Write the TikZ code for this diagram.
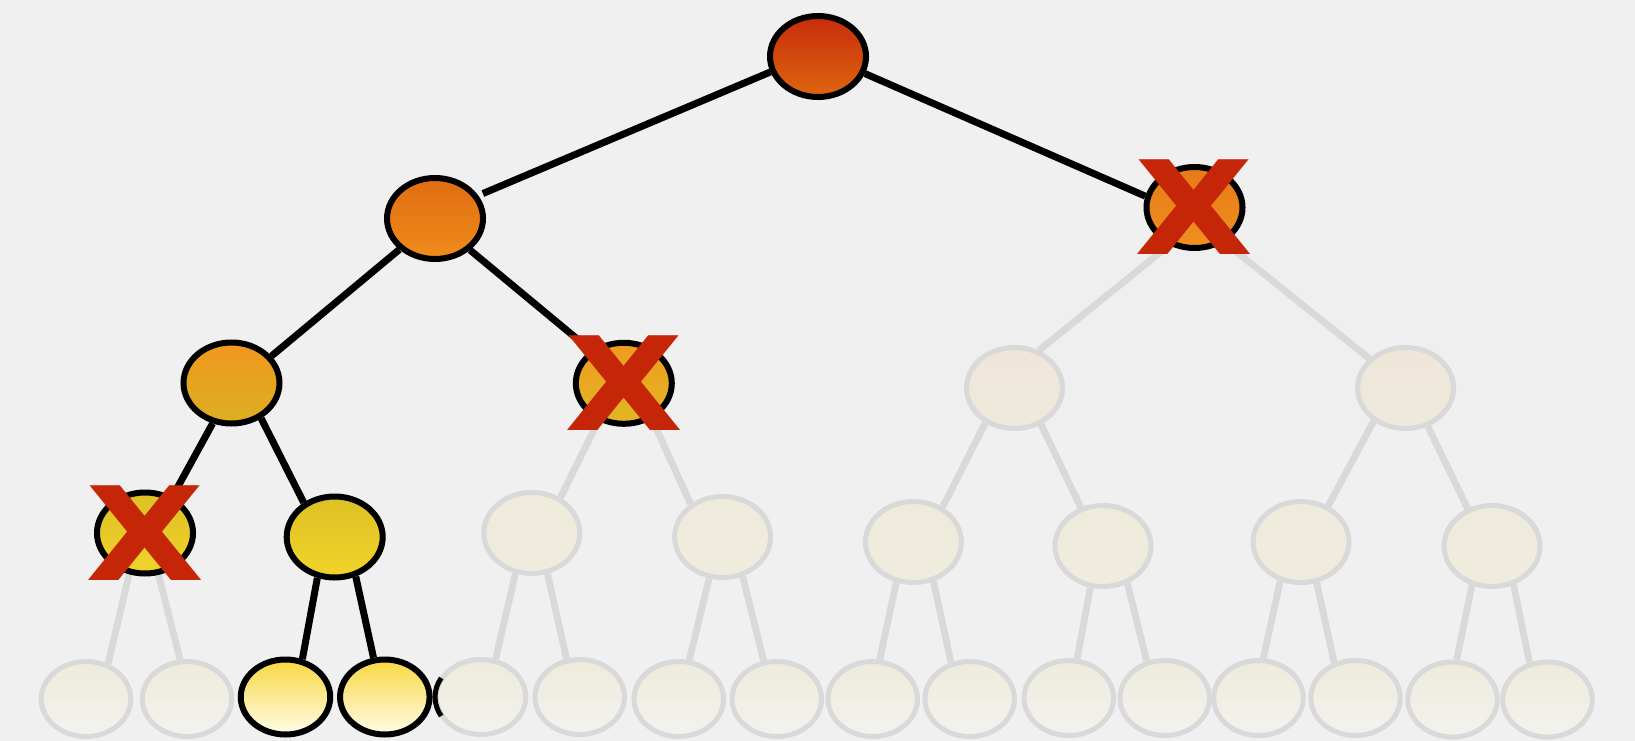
\documentclass[tikz,border=0pt]{standalone}
\usepackage{fontspec}
\newfontfamily\crossfont{DejaVu Sans}
\usetikzlibrary{shapes.geometric}

% palette
\definecolor{bg}{HTML}{F0F0F0}
\definecolor{panel}{HTML}{EFEFEF}
\definecolor{dimline}{HTML}{D9D9D9}
\definecolor{xred}{RGB}{198,38,8}
\definecolor{rootT}{HTML}{C82C0A}
\definecolor{rootB}{HTML}{DD6610}
\definecolor{oneLT}{HTML}{E06C12}
\definecolor{oneLB}{HTML}{EF8C1A}
\definecolor{oneRT}{HTML}{E57A18}
\definecolor{oneRB}{HTML}{F09020}
\definecolor{twoT}{HTML}{F0961E}
\definecolor{twoB}{HTML}{DCB022}
\definecolor{twoXT}{HTML}{F09A20}
\definecolor{twoXB}{HTML}{E0B822}
\definecolor{thrT}{HTML}{DDC024}
\definecolor{thrB}{HTML}{F1D42A}
\definecolor{leafT}{HTML}{F8D840}
\definecolor{leafB}{HTML}{FFFCEA}
\definecolor{fadeTwoT}{HTML}{EFE6D8}
\definecolor{fadeTwoB}{HTML}{EEE9DC}
\definecolor{fadeThrT}{HTML}{EEEBDB}
\definecolor{fadeThrB}{HTML}{EFECDF}
\definecolor{fadeLeafT}{HTML}{EEEBDB}
\definecolor{fadeLeafB}{HTML}{F3F2EE}

\pgfdeclarelayer{canvas}
\pgfdeclarelayer{links}
\pgfsetlayers{canvas,links,main}

\tikzset{
  tnode/.style={ellipse, draw=black, line width=6pt, inner sep=0pt,
                minimum width=96pt, minimum height=81pt},
  leafnode/.style={tnode, line width=6pt, minimum width=89.5pt, minimum height=75pt},
  faded/.style={draw=dimline, line width=5pt},
  liveedge/.style={line width=7pt, black},
  dimedge/.style={line width=6.8pt, dimline},
  cross/.style={text=xred, inner sep=0pt,
                font=\crossfont\fontsize{130}{130}\selectfont\bfseries},
}

\newcommand{\wideX}{\scalebox{1.19}[1]{X}}

\begin{document}
\begin{tikzpicture}[x=1pt,y=-1pt]
  \useasboundingbox (0,0) rectangle (1635,741);
  \begin{pgfonlayer}{canvas}
    \fill[bg] (0,0) rectangle (1635,741);
    \fill[panel] (826,250) rectangle (1625,428);
  \end{pgfonlayer}

  % internal nodes
  \node[tnode, top color=rootT, bottom color=rootB] (r) at (818,56.5) {};
  \node[tnode, top color=oneLT, bottom color=oneLB] (a) at (435,218.5) {};
  \node[tnode, top color=oneRT, bottom color=oneRB] (b) at (1194.5,207.5) {};
  \node[tnode, top color=twoT, bottom color=twoB] (aa) at (231.5,383) {};
  \node[tnode, top color=twoXT, bottom color=twoXB] (ab) at (623.8,383.3) {};
  \node[tnode, faded, top color=fadeTwoT, bottom color=fadeTwoB] (ba) at (1014.5,388) {};
  \node[tnode, faded, top color=fadeTwoT, bottom color=fadeTwoB] (bb) at (1405.6,388) {};
  \node[tnode, top color=thrT, bottom color=thrB] (aaa) at (145,533) {};
  \node[tnode, top color=thrT, bottom color=thrB] (aab) at (334.7,537) {};
  \node[tnode, faded, top color=fadeThrT, bottom color=fadeThrB] (aba) at (531.8,533) {};
  \node[tnode, faded, top color=fadeThrT, bottom color=fadeThrB] (abb) at (722.6,537) {};
  \node[tnode, faded, top color=fadeThrT, bottom color=fadeThrB] (baa) at (913.4,542) {};
  \node[tnode, faded, top color=fadeThrT, bottom color=fadeThrB] (bab) at (1103,546) {};
  \node[tnode, faded, top color=fadeThrT, bottom color=fadeThrB] (bba) at (1301,542) {};
  \node[tnode, faded, top color=fadeThrT, bottom color=fadeThrB] (bbb) at (1492,546) {};

  % leaves
  \node[leafnode, faded, top color=fadeLeafT, bottom color=fadeLeafB] (l1) at (86,699) {};
  \node[leafnode, faded, top color=fadeLeafT, bottom color=fadeLeafB] (l2) at (187,699) {};
  \node[leafnode, top color=leafT, bottom color=leafB] (l3) at (285.5,697) {};
  \node[leafnode, top color=leafT, bottom color=leafB] (l4) at (384.8,697) {};
  \node[leafnode, faded, top color=fadeLeafT, bottom color=fadeLeafB] (l5) at (481,697) {};
  \node[leafnode, faded, top color=fadeLeafT, bottom color=fadeLeafB] (l6) at (579.7,697) {};
  \node[leafnode, faded, top color=fadeLeafT, bottom color=fadeLeafB] (l7) at (678.8,699) {};
  \node[leafnode, faded, top color=fadeLeafT, bottom color=fadeLeafB] (l8) at (776.8,699) {};
  \node[leafnode, faded, top color=fadeLeafT, bottom color=fadeLeafB] (l9) at (872.7,699) {};
  \node[leafnode, faded, top color=fadeLeafT, bottom color=fadeLeafB] (l10) at (969.7,699) {};
  \node[leafnode, faded, top color=fadeLeafT, bottom color=fadeLeafB] (l11) at (1068.8,698) {};
  \node[leafnode, faded, top color=fadeLeafT, bottom color=fadeLeafB] (l12) at (1164.7,698) {};
  \node[leafnode, faded, top color=fadeLeafT, bottom color=fadeLeafB] (l13) at (1258.5,698) {};
  \node[leafnode, faded, top color=fadeLeafT, bottom color=fadeLeafB] (l14) at (1355.5,698) {};
  \node[leafnode, faded, top color=fadeLeafT, bottom color=fadeLeafB] (l15) at (1452.5,699.5) {};
  \node[leafnode, faded, top color=fadeLeafT, bottom color=fadeLeafB] (l16) at (1547.5,699.5) {};

  % connectors, behind the nodes
  \begin{pgfonlayer}{links}
    \draw[liveedge, shorten >=5pt] (r.198) -- (a.28);
    \draw[liveedge] (r.340) -- (b.167);
    \draw[liveedge] (a.221) -- (aa.34);
    \draw[liveedge] (a.318) -- (ab.135);
    \draw[liveedge] (aa.245) -- (aaa.53);
    \draw[liveedge] (aa.310) -- (aab.132);
    \draw[liveedge] (aab.247) -- (l3.66);
    \draw[liveedge] (aab.298) -- (l4.106);
    \draw[dimedge] (b.236) -- (ba.57);
    \draw[dimedge] (b.311) -- (bb.141);
    \draw[dimedge] (ab.236) -- (aba.51);
    \draw[dimedge] (ab.308) -- (abb.134);
    \draw[dimedge] (ba.230) -- (baa.50);
    \draw[dimedge] (ba.306) -- (bab.120);
    \draw[dimedge] (bb.226) -- (bba.53);
    \draw[dimedge] (bb.300) -- (bbb.123);
    \draw[dimedge] (aaa.249) -- (l1.58);
    \draw[dimedge] (aaa.288) -- (l2.100);
    \draw[dimedge] (aba.248) -- (l5.69);
    \draw[dimedge] (aba.291) -- (l6.109);
    \draw[dimedge] (abb.252) -- (l7.75);
    \draw[dimedge] (abb.297) -- (l8.109);
    \draw[dimedge] (baa.247) -- (l9.80);
    \draw[dimedge] (baa.297) -- (l10.117);
    \draw[dimedge] (bab.253) -- (l11.78);
    \draw[dimedge] (bab.303) -- (l12.116);
    \draw[dimedge] (bba.242) -- (l13.83);
    \draw[dimedge] (bba.291) -- (l14.121);
    \draw[dimedge] (bbb.243) -- (l15.84);
    \draw[dimedge] (bbb.299) -- (l16.116);
  \end{pgfonlayer}

  % sliver of dark rim on the left of leaf l5
  \draw[line width=5pt] ([shift={(-39.8,19)}]l5.center)
        arc[start angle=150, end angle=210, x radius=46, y radius=38];

  % red crosses
  \node[cross] (xb) at (b) {\wideX};
  \node[cross] (xab) at (ab) {\wideX};
  \node[cross] (xaaa) at (aaa) {\wideX};
\end{tikzpicture}
\end{document}
